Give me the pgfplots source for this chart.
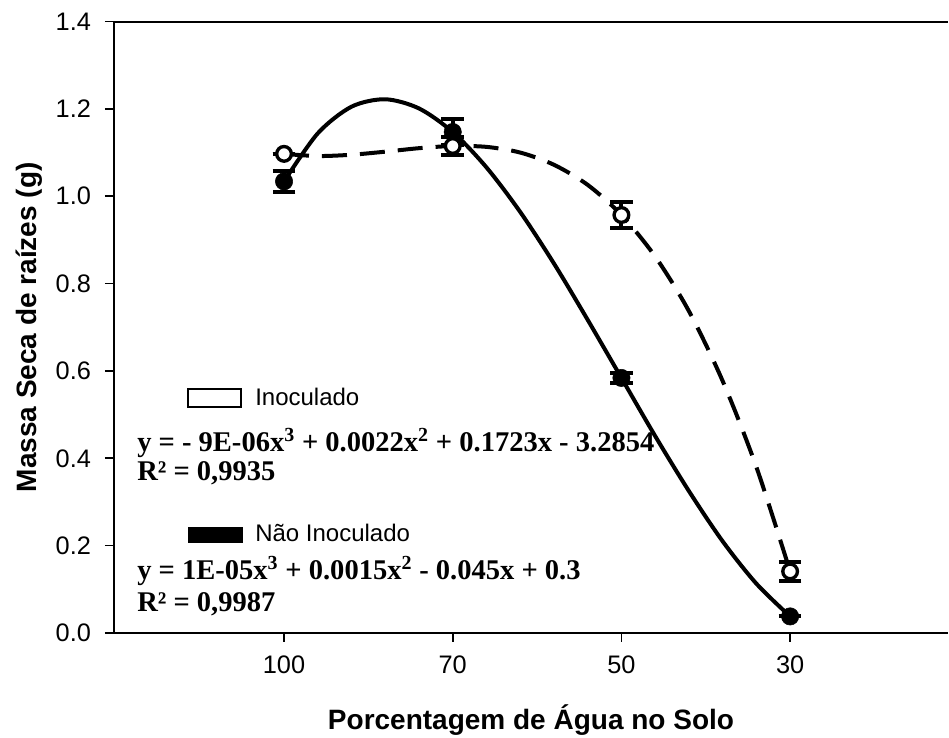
\documentclass[border=0pt]{standalone}
\usepackage{fontspec}
\setmainfont{Liberation Serif}
\setsansfont{Liberation Sans}
\usepackage{pgfplots}
\pgfplotsset{compat=1.18}
\begin{document}
\begin{tikzpicture}[x=0.75pt,y=0.75pt]
\path[use as bounding box] (0,0) rectangle (949,738);
\begin{axis}[
  at={(85.5pt,78.75pt)}, anchor=south west,
  width=625.5pt, height=458.6pt, scale only axis,
  xmin=-1.008, xmax=3.936, ymin=0, ymax=1.4,
  axis x line*=bottom, axis y line*=left,
  axis line style={-, line width=1.5pt},
  xtick={0,1,2,3}, xticklabels={100,70,50,30},
  ytick={0,0.2,0.4,0.6,0.8,1.0,1.2,1.4},
  /pgf/number format/fixed, /pgf/number format/fixed zerofill, /pgf/number format/precision=1,
  /pgf/number format/assume math mode=true,
  tick align=outside, major tick length=6.75pt,
  tick style={line width=1.2pt, black},
  ticklabel style={font=\sffamily\fontsize{19pt}{22pt}\selectfont},
  xticklabel style={yshift=-7pt},
  yticklabel style={xshift=-7pt},
  xlabel={Porcentagem de Água no Solo},
  ylabel={Massa Seca de raízes (g)},
  every axis x label/.style={at={(axis description cs:0.5,-0.1586)}, anchor=base, font=\sffamily\bfseries\fontsize{21pt}{24pt}\selectfont},
  every axis y label/.style={at={(axis description cs:-0.0935,0.5)}, rotate=90, anchor=base, font=\sffamily\bfseries\fontsize{21pt}{24pt}\selectfont},
  clip=false,
]
% top frame line
\draw[line width=1.5pt] (rel axis cs:0,1) -- (rel axis cs:1,1);
% Nao inoculado fitted curve (solid)
\addplot[black, line width=3pt, smooth, no marks] coordinates {
(0,1.034)(0.2,1.144)(0.4,1.205)(0.6,1.222)(0.8,1.201)(1,1.147)(1.2,1.066)(1.4,0.964)(1.6,0.846)(1.8,0.717)(2,0.584)(2.2,0.451)(2.4,0.325)(2.6,0.210)(2.8,0.113)(3,0.038)};
% Inoculado fitted curve (dashed)
\addplot[black, line width=3pt, smooth, no marks, dash pattern=on 18.75pt off 9.75pt] coordinates {
(0,1.097)(0.2,1.092)(0.4,1.095)(0.6,1.102)(0.8,1.110)(1,1.115)(1.2,1.113)(1.4,1.100)(1.6,1.072)(1.8,1.026)(2,0.957)(2.2,0.862)(2.4,0.737)(2.6,0.577)(2.8,0.380)(3,0.141)};
% Nao inoculado points
\addplot[only marks, mark=*, mark size=6.5pt, mark options={fill=black, draw=black},
  error bars/.cd, y dir=both, y explicit,
  error bar style={line width=3pt, black},
  error mark options={rotate=90, line width=3pt, mark size=8.5pt, black}]
  coordinates {(0,1.034) +- (0,0.024) (1,1.147) +- (0,0.03) (2,0.584) +- (0,0.012) (3,0.038) +- (0,0)};
% Inoculado points
\addplot[only marks, mark=*, mark size=5.5pt, mark options={fill=white, draw=black, line width=2.5pt},
  error bars/.cd, y dir=both, y explicit,
  error bar style={line width=3pt, black},
  error mark options={rotate=90, line width=3pt, mark size=8.5pt, black}]
  coordinates {(0,1.097) +- (0,0) (1,1.115) +- (0,0.02) (2,0.957) +- (0,0.03) (3,0.141) +- (0,0.022)};
\end{axis}
% legend keys and equations
\draw[line width=1.2pt, fill=white] (188,331) rectangle (241,349);
\node[anchor=base west, inner sep=0pt, font=\sffamily\fontsize{18pt}{20pt}\selectfont] at (255,332) {Inoculado};
\node[anchor=base west, inner sep=0pt, font=\bfseries\fontsize{21.4pt}{24pt}\selectfont] at (137,286) {y = - 9E-06x\textsuperscript{3} + 0.0022x\textsuperscript{2} + 0.1723x - 3.2854};
\node[anchor=base west, inner sep=0pt, font=\bfseries\fontsize{21.4pt}{24pt}\selectfont] at (137,257) {R² = 0,9935};
\fill[black] (188,195) rectangle (243,211);
\node[anchor=base west, inner sep=0pt, font=\sffamily\fontsize{18pt}{20pt}\selectfont] at (255,196) {Não Inoculado};
\node[anchor=base west, inner sep=0pt, font=\bfseries\fontsize{21.4pt}{24pt}\selectfont] at (137,158) {y = 1E-05x\textsuperscript{3} + 0.0015x\textsuperscript{2} - 0.045x + 0.3};
\node[anchor=base west, inner sep=0pt, font=\bfseries\fontsize{21.4pt}{24pt}\selectfont] at (137,126) {R² = 0,9987};
\end{tikzpicture}
\end{document}
